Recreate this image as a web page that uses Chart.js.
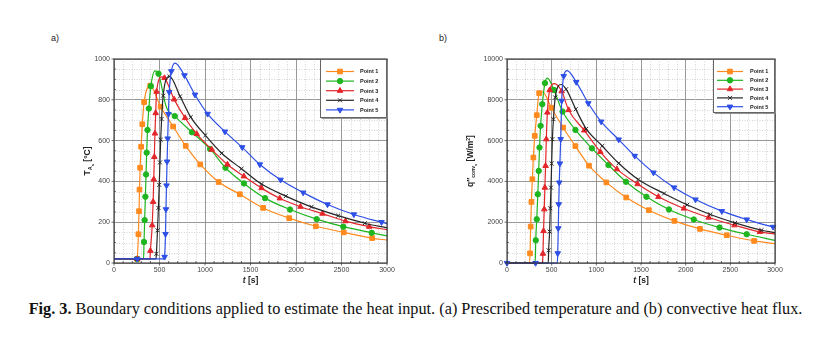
<!DOCTYPE html>
<html>
<head>
<meta charset="utf-8">
<script src="https://cdn.jsdelivr.net/npm/chart.js@4"></script>
<style>
  body { margin: 0; background: #fff; width: 831px; height: 347px; position: relative; overflow: hidden; font-family: "Liberation Sans", Arial, sans-serif; }
  canvas { position: absolute; top: 50px; }
  #chartA { left: 40px; }
  #chartB { left: 430px; }
  .tag { position: absolute; top: 33px; font-size: 9px; color: #222; }
  #caption { position: absolute; left: 0; width: 831px; top: 300px; text-align: center; font-family: "Liberation Serif", "Times New Roman", serif; font-size: 14.5px; color: #111; white-space: nowrap; }
  #caption span { display: inline-block; }
</style>
</head>
<body>
<div class="tag" style="left:51px">a)</div>
<div class="tag" style="left:439px">b)</div>
<canvas id="chartA" width="360" height="240"></canvas>
<canvas id="chartB" width="360" height="240"></canvas>
<div id="caption"><span id="capText"><b>Fig. 3.</b> Boundary conditions applied to estimate the heat input. (a) Prescribed temperature and (b) convective heat flux.</span></div>
<script>
// ---- data: [t (s), value] ----
const seriesNames = ["Point 1", "Point 2", "Point 3", "Point 4", "Point 5"];
const xTicks = [0, 500, 1000, 1500, 2000, 2500, 3000];
const tempTicks = [0, 200, 400, 600, 800, 1000];
const fluxTicks = [0, 2000, 4000, 6000, 8000, 10000];

// a) temperature T_As [°C]; "Marks" carry a symbol, "Extra" only shape the curve
const tempP1Marks = [[255,20],[268,141],[275,254],[280,360],[287,467],[298,570],[311,680],[331,789],[398,869],[512,766],[650,669],[788,574],[948,483],[1150,397],[1383,337],[1639,270],[1925,220],[2218,180],[2525,150],[2837,122]];
const tempP1Extra = [[0,20],[250,20],[3000,112]];
const tempP2Marks = [[255,20],[330,103],[337,210],[345,325],[352,434],[359,541],[368,652],[383,757],[405,867],[489,928],[668,720],[856,641],[1056,559],[1225,467],[1428,390],[1660,318],[1934,262],[2227,215],[2520,178],[2832,148]];
const tempP2Extra = [[0,20],[325,20],[450,942],[575,765],[3000,133]];
const tempP3Marks = [[255,20],[400,60],[420,185],[430,300],[437,410],[443,520],[450,635],[458,735],[468,840],[555,907],[661,802],[781,711],[909,633],[1074,556],[1247,483],[1427,425],[1621,367],[1822,317],[2049,276],[2291,242],[2544,205],[2804,178]];
const tempP3Extra = [[0,20],[395,20],[525,912],[3000,163]];
const tempP4Marks = [[255,20],[466,45],[478,160],[488,270],[497,383],[505,493],[513,604],[523,706],[540,820],[610,915],[726,817],[843,715],[1004,626],[1183,538],[1401,462],[1621,387],[1888,328],[2170,275],[2463,232],[2756,195]];
const tempP4Extra = [[0,20],[462,20],[3000,172]];
const tempP5Marks = [[255,20],[556,30],[566,142],[571,263],[577,380],[583,497],[590,610],[598,730],[607,838],[630,940],[774,920],[890,825],[1029,731],[1219,644],[1409,567],[1603,483],[1830,408],[2079,345],[2346,287],[2636,238],[2940,200]];
const tempP5Extra = [[0,20],[551,20],[671,980],[3000,193]];

// b) convective heat flux q''_conv,s [W/m²]
const fluxP1Marks = [[258,474],[265,1783],[273,2994],[284,4106],[295,5170],[311,6233],[333,7247],[360,8327],[496,7610],[628,6640],[765,5730],[918,4770],[1112,3950],[1335,3212],[1588,2590],[1874,2065],[2160,1672],[2460,1360],[2766,1082]];
const fluxP1Extra = [[0,0],[252,0],[400,8380],[3000,950]];
const fluxP2Marks = [[322,1112],[333,2143],[345,3370],[355,4515],[364,5660],[376,6724],[395,7787],[425,8818],[525,8480],[622,7424],[766,6523],[951,5621],[1136,4802],[1332,3983],[1561,3245],[1813,2622],[2091,2130],[2379,1737],[2683,1410]];
const fluxP2Extra = [[0,0],[316,0],[452,9060],[590,7750],[3000,1110]];
const fluxP3Marks = [[402,458],[409,1570],[417,2634],[424,3697],[432,4761],[440,6069],[452,7378],[478,8474],[612,8420],[690,7500],[865,6500],[1045,5450],[1230,4600],[1462,3868],[1695,3245],[1980,2671],[2257,2229],[2546,1852],[2831,1524]];
const fluxP3Extra = [[0,0],[397,0],[530,8790],[3000,1420]];
const fluxP4Marks = [[466,622],[477,1538],[485,2683],[492,3697],[500,4875],[508,6069],[520,7051],[540,8114],[662,8520],[770,7540],[887,6574],[1066,5736],[1250,4890],[1469,4097],[1758,3409],[2017,2852],[2276,2376],[2553,1966],[2849,1606]];
const fluxP4Extra = [[0,0],[462,0],[605,8750],[3000,1490]];
const fluxP5Marks = [[0,0],[320,0],[568,474],[574,1701],[579,2879],[585,3943],[592,4875],[601,6069],[612,7950],[635,9164],[775,8870],[910,7830],[1054,6930],[1250,6050],[1430,5250],[1640,4430],[1870,3700],[2110,3110],[2405,2540],[2683,2130],[2978,1770]];
const fluxP5Extra = [[563,0],[672,9430],[3000,1760]];

// ---- styling ----
const colors = ["#ff8a1e", "#1fb51f", "#e3262a", "#262626", "#2d4fe6"];
const symbols = [
  { pointStyle: "rect", radius: 3.3, rotation: 0 },
  { pointStyle: "circle", radius: 2.7, rotation: 0 },
  { pointStyle: "triangle", radius: 3.2, rotation: 0 },
  { pointStyle: "crossRot", radius: 2.8, rotation: 0 },
  { pointStyle: "triangle", radius: 3.2, rotation: 180 }
];

function series(marks, extra) {
  const pts = marks.map(p => ({ x: p[0], y: p[1], m: true }))
    .concat(extra.map(p => ({ x: p[0], y: p[1], m: false })));
  return pts.sort((a, b) => a.x - b.x);
}

const paperPlugin = {
  id: "paper",
  beforeDatasetsDraw(chart, args, o) {
    const { ctx, chartArea: a, scales: { x, y } } = chart;
    ctx.save();
    ctx.strokeStyle = "#b8b8b8";
    ctx.lineWidth = 0.6;
    ctx.setLineDash([1, 1.5]);
    for (let v = 100; v < 3000; v += 100) {
      if (v % 500 === 0) continue;
      const px = Math.round(x.getPixelForValue(v)) + 0.5;
      ctx.beginPath(); ctx.moveTo(px, a.top); ctx.lineTo(px, a.bottom); ctx.stroke();
    }
    const ym = o.yMax / 20;
    for (let v = ym; v < o.yMax; v += ym) {
      if (Math.round(v / ym) % 4 === 0) continue;
      const py = Math.round(y.getPixelForValue(v)) + 0.5;
      ctx.beginPath(); ctx.moveTo(a.left, py); ctx.lineTo(a.right, py); ctx.stroke();
    }
    ctx.restore();
  },
  afterDatasetsDraw(chart, args, o) {
    const { ctx, chartArea: a, scales: { x, y } } = chart;
    ctx.save();
    // frame and ticks
    ctx.strokeStyle = "#333";
    ctx.lineWidth = 1.1;
    ctx.strokeRect(a.left, a.top, a.right - a.left, a.bottom - a.top);
    ctx.lineWidth = 0.7;
    for (let v = 0; v <= 3000; v += 100) {
      const px = x.getPixelForValue(v);
      const major = v % 500 === 0;
      ctx.beginPath();
      ctx.moveTo(px, a.bottom + (major ? 2.5 : 0));
      ctx.lineTo(px, a.bottom - (major ? 0 : 2));
      ctx.stroke();
    }
    const ym = o.yMax / 20;
    for (let i = 0; i <= 20; i++) {
      const py = y.getPixelForValue(i * ym);
      const major = i % 4 === 0;
      ctx.beginPath();
      ctx.moveTo(a.left - (major ? 2.5 : 0), py);
      ctx.lineTo(a.left + (major ? 0 : 2), py);
      ctx.stroke();
    }

    // legend box
    const lw = o.legend.w, lh = o.legend.h;
    const lx = a.right - lw, ly = a.top;
    ctx.fillStyle = "#fff";
    ctx.fillRect(lx, ly, lw, lh);
    ctx.strokeStyle = "#555";
    ctx.lineWidth = 0.9;
    ctx.strokeRect(lx + 0.5, ly + 0.5, lw - 1, lh - 1);
    ctx.strokeStyle = "#888";
    ctx.beginPath(); ctx.moveTo(lx + 1.5, ly + lh + 0.5); ctx.lineTo(lx + lw + 0.5, ly + lh + 0.5); ctx.lineTo(lx + lw + 0.5, ly + 1.5); ctx.stroke();
    ctx.font = "bold 5.5px 'Liberation Sans', Arial, sans-serif";
    ctx.textBaseline = "middle";
    seriesNames.forEach((name, i) => {
      const yy = ly + o.legend.first + i * o.legend.step;
      ctx.strokeStyle = colors[i];
      ctx.fillStyle = colors[i];
      ctx.lineWidth = 1.2;
      ctx.beginPath(); ctx.moveTo(lx + o.legend.lineFrom, yy); ctx.lineTo(lx + o.legend.lineTo, yy); ctx.stroke();
      ctx.lineWidth = 1;
      Chart.helpers.drawPoint(ctx, Object.assign({ borderWidth: 1 }, symbols[i]), lx + (o.legend.lineFrom + o.legend.lineTo) / 2, yy);
      ctx.fillStyle = "#222";
      ctx.fillText(name, lx + o.legend.text, yy + 0.3);
    });

    // axis titles
    ctx.fillStyle = "#222";
    ctx.textBaseline = "alphabetic";
    ctx.font = "italic bold 8.5px 'Liberation Sans', Arial, sans-serif";
    const tW = ctx.measureText("t").width;
    ctx.font = "bold 8.5px 'Liberation Sans', Arial, sans-serif";
    const rW = ctx.measureText(" [s]").width;
    const cx = (a.left + a.right) / 2 - (tW + rW) / 2;
    ctx.font = "italic bold 8.5px 'Liberation Sans', Arial, sans-serif";
    ctx.fillText("t", cx, a.bottom + 20);
    ctx.font = "bold 8.5px 'Liberation Sans', Arial, sans-serif";
    ctx.fillText(" [s]", cx + tW, a.bottom + 20);

    ctx.translate(o.yTitle.x, (a.top + a.bottom) / 2);
    ctx.rotate(-Math.PI / 2);
    let total = 0;
    o.yTitle.parts.forEach(p => {
      ctx.font = "bold " + p.s + "px 'Liberation Sans', Arial, sans-serif";
      total += ctx.measureText(p.t).width;
    });
    let pos = -total / 2;
    o.yTitle.parts.forEach(p => {
      ctx.font = "bold " + p.s + "px 'Liberation Sans', Arial, sans-serif";
      ctx.fillText(p.t, pos, 3 + (p.dy || 0));
      pos += ctx.measureText(p.t).width;
    });
    ctx.restore();
  }
};

function makeChart(id, marksList, extraList, yTicks, leftWidth, rightPad, paperOpts) {
  const yMax = yTicks[yTicks.length - 1];
  return new Chart(document.getElementById(id), {
    type: "line",
    data: {
      datasets: marksList.map((marks, i) => ({
        label: seriesNames[i],
        data: series(marks, extraList[i]),
        borderColor: colors[i],
        backgroundColor: colors[i],
        pointBackgroundColor: colors[i],
        pointBorderColor: colors[i],
        borderWidth: 1.2,
        pointBorderWidth: 1,
        pointStyle: symbols[i].pointStyle,
        pointRotation: symbols[i].rotation,
        pointRadius: ctx => (ctx.raw && ctx.raw.m ? symbols[i].radius : 0),
        pointHoverRadius: 0,
        cubicInterpolationMode: "monotone",
        order: 4 - i,
        clip: 6
      }))
    },
    options: {
      responsive: false,
      animation: false,
      events: [],
      layout: { padding: { left: 0, top: 9, right: rightPad, bottom: 0 } },
      plugins: {
        legend: { display: false },
        tooltip: { enabled: false },
        paper: Object.assign({ yMax: yMax }, paperOpts)
      },
      scales: {
        x: {
          type: "linear",
          min: 0, max: 3000,
          afterBuildTicks: s => { s.ticks = xTicks.map(v => ({ value: v })); },
          afterFit: s => { s.height = 27; },
          ticks: { color: "#444", padding: 3, font: { size: 7, family: "'Liberation Sans', Arial, sans-serif" }, maxRotation: 0, callback: v => String(v) },
          grid: { color: "#8c8c8c", lineWidth: 0.9, drawTicks: false },
          border: { display: false }
        },
        y: {
          type: "linear",
          min: 0, max: yMax,
          afterBuildTicks: s => { s.ticks = yTicks.map(v => ({ value: v })); },
          afterFit: s => { s.width = leftWidth; },
          ticks: { color: "#444", padding: 4, font: { size: 7, family: "'Liberation Sans', Arial, sans-serif" }, callback: v => String(v) },
          grid: { color: "#8c8c8c", lineWidth: 0.9, drawTicks: false },
          border: { display: false }
        }
      }
    },
    plugins: [paperPlugin]
  });
}

makeChart("chartA",
  [tempP1Marks, tempP2Marks, tempP3Marks, tempP4Marks, tempP5Marks],
  [tempP1Extra, tempP2Extra, tempP3Extra, tempP4Extra, tempP5Extra],
  tempTicks, 74, 13,
  {
    legend: { w: 67, h: 59, first: 12.5, step: 9.6, lineFrom: 6, lineTo: 34, text: 40 },
    yTitle: { x: 47, parts: [{ t: "T", s: 8.5 }, { t: "A", s: 5.5, dy: 2 }, { t: "s", s: 4.2, dy: 3.6 }, { t: " [°C]", s: 8.5 }] }
  });

makeChart("chartB",
  [fluxP1Marks, fluxP2Marks, fluxP3Marks, fluxP4Marks, fluxP5Marks],
  [fluxP1Extra, fluxP2Extra, fluxP3Extra, fluxP4Extra, fluxP5Extra],
  fluxTicks, 77, 15,
  {
    legend: { w: 62, h: 54, first: 12.5, step: 8.8, lineFrom: 4, lineTo: 30, text: 37 },
    yTitle: { x: 40, parts: [{ t: "q\u2033", s: 8.5 }, { t: "conv", s: 5, dy: 2 }, { t: "s", s: 4, dy: 3.6 }, { t: " [W/m", s: 8.5 }, { t: "2", s: 5, dy: -3.5 }, { t: "]", s: 8.5 }] }
  });

// fit caption to the width of the original
const cap = document.getElementById("capText");
const w = cap.getBoundingClientRect().width;
const fs = parseFloat(getComputedStyle(document.getElementById("caption")).fontSize);
document.getElementById("caption").style.fontSize = (fs * 774 / w).toFixed(2) + "px";
</script>
</body>
</html>
